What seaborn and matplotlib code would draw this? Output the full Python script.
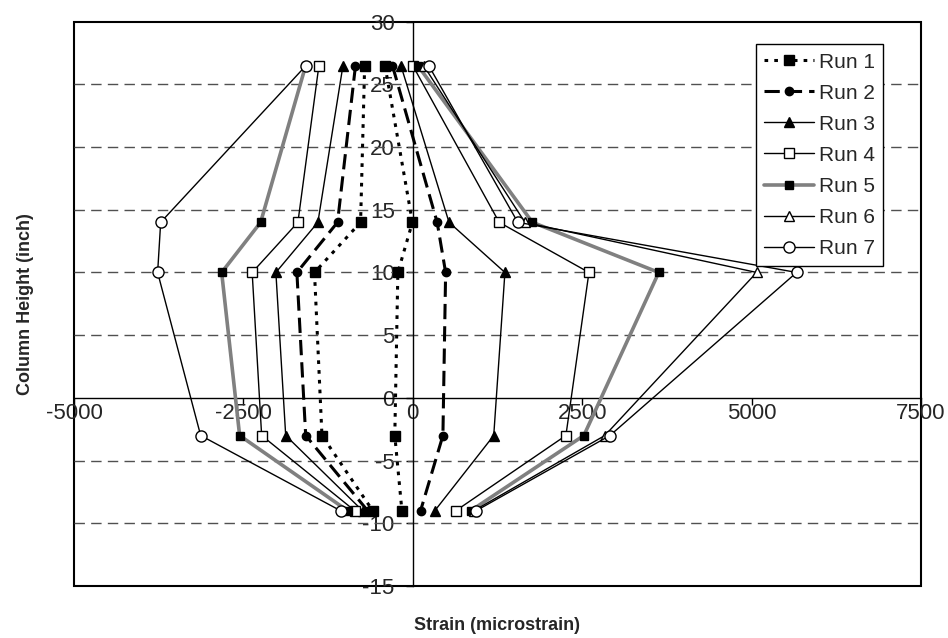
import numpy as np
import pandas as pd
import matplotlib
matplotlib.use("Agg")
import matplotlib.pyplot as plt
import seaborn as sns

# ── Data ──────────────────────────────────────────────────────────────────────
heights = [26.5, 14, 10, -3, -9]

run1_left  = [-710, -770, -1450, -1340, -590]
run1_right = [-410, -5, -220, -265, -160]
run2_left  = [-845, -1110, -1710, -1580, -665]
run2_right = [-300, 360, 485, 445, 115]
run3_left  = [-1030, -1400, -2020, -1875, -740]
run3_right = [-175, 535, 1360, 1195, 325]
run4_left  = [-1385, -1695, -2370, -2230, -855]
run4_right = [0, 1275, 2600, 2260, 635]
run5_left  = [-1580, -2245, -2820, -2555, -960]
run5_right = [75, 1765, 3630, 2525, 855]
run6_left  = []
run6_right = [160, 1655, 5075, 2835, 900]
run7_left  = [-1575, -3720, -3765, -3130, -1065]
run7_right = [235, 1550, 5665, 2910, 935]

run_names = ["Run 1", "Run 2", "Run 3", "Run 4", "Run 5", "Run 6", "Run 7"]
left_sides  = [run1_left, run2_left, run3_left, run4_left, run5_left, run6_left, run7_left]
right_sides = [run1_right, run2_right, run3_right, run4_right, run5_right, run6_right, run7_right]

x_ticks = [-5000, -2500, 0, 2500, 5000, 7500]
y_ticks = [-15, -10, -5, 0, 5, 10, 15, 20, 25, 30]

# ── Styles ────────────────────────────────────────────────────────────────────
styles = {
    "Run 1": dict(color="black", lw=2.2, ls=(0, (1.2, 2.0)), marker="s", ms=7,
                  mfc="black", mec="black"),
    "Run 2": dict(color="black", lw=2.2, ls=(0, (5, 2.3)), marker="o", ms=6,
                  mfc="black", mec="black"),
    "Run 3": dict(color="black", lw=1.0, ls="-", marker="^", ms=6.5,
                  mfc="black", mec="black"),
    "Run 4": dict(color="black", lw=1.0, ls="-", marker="s", ms=7.5,
                  mfc="white", mec="black"),
    "Run 5": dict(color="#808080", lw=2.6, ls="-", marker="s", ms=6,
                  mfc="black", mec="black"),
    "Run 6": dict(color="black", lw=1.0, ls="-", marker="^", ms=6.5,
                  mfc="white", mec="black"),
    "Run 7": dict(color="black", lw=1.0, ls="-", marker="o", ms=8,
                  mfc="white", mec="black"),
}

sns.set_style("white")
plt.rcParams["font.family"] = ["Liberation Sans", "DejaVu Sans"]

fig = plt.figure(figsize=(9.48, 6.38), dpi=100)
ax = fig.add_axes([0.078, 0.0815, 0.8935, 0.8846])

# dashed gridlines
for yv in [25, 20, 15, 10, 5, -5, -10]:
    ax.axhline(yv, color="#505050", lw=1.0, ls=(0, (7.5, 4.5)), zorder=1)

# ── Draw runs ─────────────────────────────────────────────────────────────────
for name, left, right in zip(run_names, left_sides, right_sides):
    st = styles[name]
    first = True
    for side in (left, right):
        if len(side) == 0:
            continue
        df = pd.DataFrame({"strain": side, "height": heights})
        sns.lineplot(data=df, x="strain", y="height", sort=False, estimator=None,
                     ax=ax, color=st["color"], lw=st["lw"], linestyle=st["ls"],
                     marker=st["marker"], markersize=st["ms"],
                     markerfacecolor=st["mfc"], markeredgecolor=st["mec"],
                     markeredgewidth=1.0, label=name if first else "_nolegend_",
                     legend=False, zorder=3)
        first = False

# ── Axes ──────────────────────────────────────────────────────────────────────
ax.set_xlim(-5000, 7500)
ax.set_ylim(-15, 30)
ax.set_xticks(x_ticks)
ax.set_yticks(y_ticks)
ax.set_xticklabels([str(v) for v in x_ticks])
ax.set_yticklabels([str(v) for v in y_ticks])

for s in ["top", "right"]:
    ax.spines[s].set_visible(False)
ax.spines["left"].set_position(("data", 0))
ax.spines["bottom"].set_position(("data", 0))
ax.spines["left"].set_color("black")
ax.spines["bottom"].set_color("black")
ax.spines["left"].set_linewidth(1.0)
ax.spines["bottom"].set_linewidth(1.0)
ax.patch.set_edgecolor("black")
ax.patch.set_linewidth(1.5)

ax.tick_params(axis="both", direction="out", length=5, width=1, color="black",
               labelsize=16, bottom=True, left=True)
ax.tick_params(axis="x", pad=-1)
ax.tick_params(axis="y", pad=8)

ax.set_xlabel("Strain (microstrain)", fontsize=13, fontweight="bold")
ax.set_ylabel("Column Height (inch)", fontsize=13, fontweight="bold")
ax.xaxis.set_label_coords(0.5, -0.055)
ax.yaxis.set_label_coords(-0.047, 0.5)

leg = ax.legend(loc="upper right", bbox_to_anchor=(0.955, 0.960), fontsize=15,
                frameon=True, fancybox=False, framealpha=1, edgecolor="black",
                handlelength=2.4, labelspacing=0.58, borderpad=0.4,
                handletextpad=0.2, borderaxespad=0)
leg.get_frame().set_linewidth(1.0)

fig.savefig("out.png", dpi=100)
